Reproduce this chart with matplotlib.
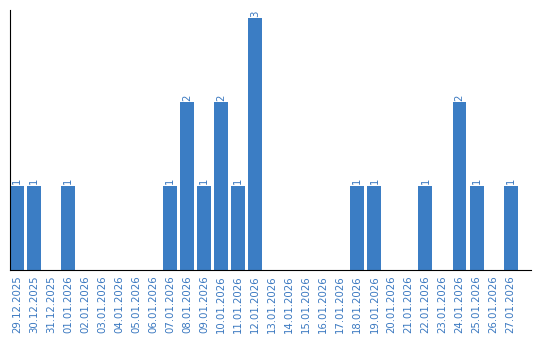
import matplotlib
matplotlib.use("Agg")
import matplotlib.pyplot as plt

dates = ["29.12.2025", "30.12.2025", "31.12.2025", "01.01.2026", "02.01.2026",
         "03.01.2026", "04.01.2026", "05.01.2026", "06.01.2026", "07.01.2026",
         "08.01.2026", "09.01.2026", "10.01.2026", "11.01.2026", "12.01.2026",
         "13.01.2026", "14.01.2026", "15.01.2026", "16.01.2026", "17.01.2026",
         "18.01.2026", "19.01.2026", "20.01.2026", "21.01.2026", "22.01.2026",
         "23.01.2026", "24.01.2026", "25.01.2026", "26.01.2026", "27.01.2026"]
counts = [1, 1, 0, 1, 0, 0, 0, 0, 0, 1,
          2, 1, 2, 1, 3, 0, 0, 0, 0, 0,
          1, 1, 0, 0, 1, 0, 2, 1, 0, 1]

bar_color = "#3b7dc4"
text_color = "#3a78c0"

fig = plt.figure(figsize=(5.4, 3.4), dpi=100)
ax = fig.add_axes([10/540, 70/340, 521/540, 260/340])
x = list(range(len(dates)))
ax.bar(x, counts, width=0.82, color=bar_color)
for xi, v in zip(x, counts):
    if v > 0:
        ax.text(xi, v + 0.02, str(v), rotation=90, ha="center", va="bottom",
                color=text_color, fontsize=7.3)
ax.set_xlim(-0.41, 30.2)
ax.set_ylim(0, 3.1)
ax.set_xticks(x)
ax.set_xticklabels(dates, rotation=90, color=text_color, fontsize=7.3)
ax.tick_params(axis="x", length=0, pad=4)
ax.set_yticks([])
ax.spines["top"].set_visible(False)
ax.spines["right"].set_visible(False)
ax.spines["left"].set_color("black")
ax.spines["bottom"].set_color("black")
fig.savefig("out.png", dpi=100)
